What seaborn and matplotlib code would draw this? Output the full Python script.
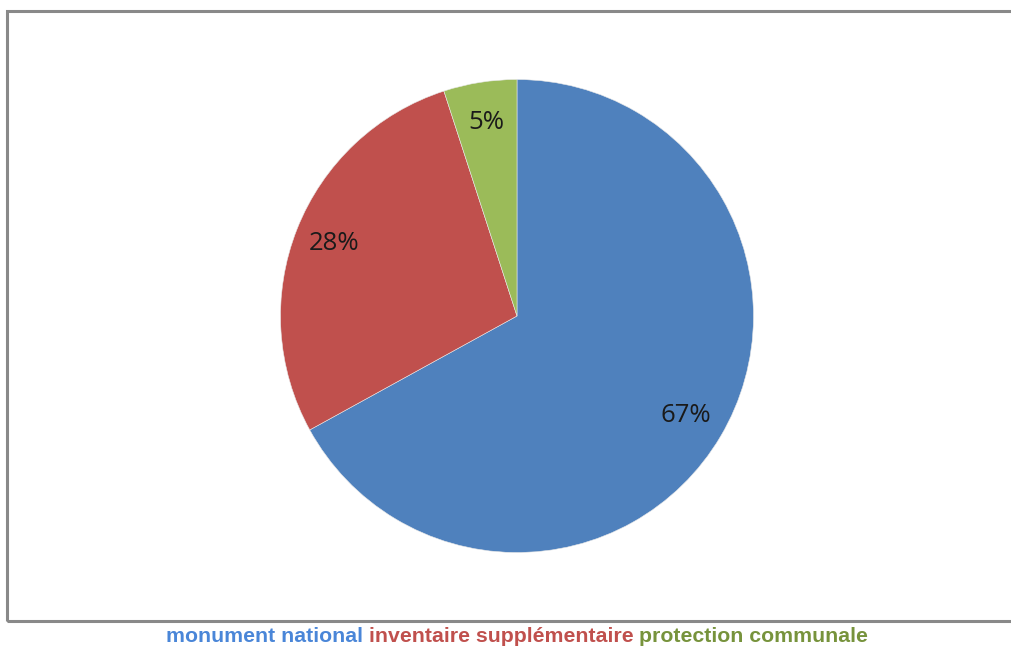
import matplotlib
matplotlib.use('Agg')
import matplotlib.pyplot as plt
import seaborn as sns
from matplotlib.patches import Rectangle

categories = ['monument national', 'inventaire supplémentaire', 'protection communale']
shares = [67, 28, 5]
slice_colors = ['#4F81BD', '#C0504D', '#9BBB59']
legend_colors = ['#4A86D8', '#C0504D', '#77933C']

sns.set_style('white')
palette = sns.color_palette(slice_colors)

fig = plt.figure(figsize=(10.12, 6.46), dpi=100)
fig.patch.set_facecolor('white')

# frame around the chart area
fig.add_artist(Rectangle((7.5 / 1012, 1 - 621 / 646), 1.1, (621 - 10.5) / 646,
                         transform=fig.transFigure, fill=False,
                         edgecolor='#898989', linewidth=2.2))

ax = fig.add_axes([(517 - 236.5) / 1012, (646 - 552.5) / 646, 473 / 1012, 473 / 646])
wedges, texts, autotexts = ax.pie(
    shares, colors=palette, startangle=90, counterclock=False,
    autopct='%1.0f%%', pctdistance=0.83, radius=1,
    wedgeprops=dict(edgecolor='#e8e8e8', linewidth=0.4),
    textprops=dict(fontsize=18.5, family='Open Sans', color='#1a1a1a'))
ax.set_xlim(-1, 1)
ax.set_ylim(-1, 1)
ax.set_aspect('equal')
ax.axis('off')

# coloured legend line below the frame
fig.canvas.draw()
renderer = fig.canvas.get_renderer()
pieces = []
for i, name in enumerate(categories):
    label = name if i == len(categories) - 1 else name + ' '
    t = fig.text(0, 1 - 636 / 646, label, color=legend_colors[i], fontsize=15.3,
                 fontweight='bold', family='Liberation Sans', va='center', ha='left')
    pieces.append(t)
widths = [p.get_window_extent(renderer).width for p in pieces]
x = (167 + 867) / 2 - sum(widths) / 2
for p, w in zip(pieces, widths):
    p.set_x(x / 1012)
    x += w

fig.savefig('out.png', dpi=100, facecolor='white')
